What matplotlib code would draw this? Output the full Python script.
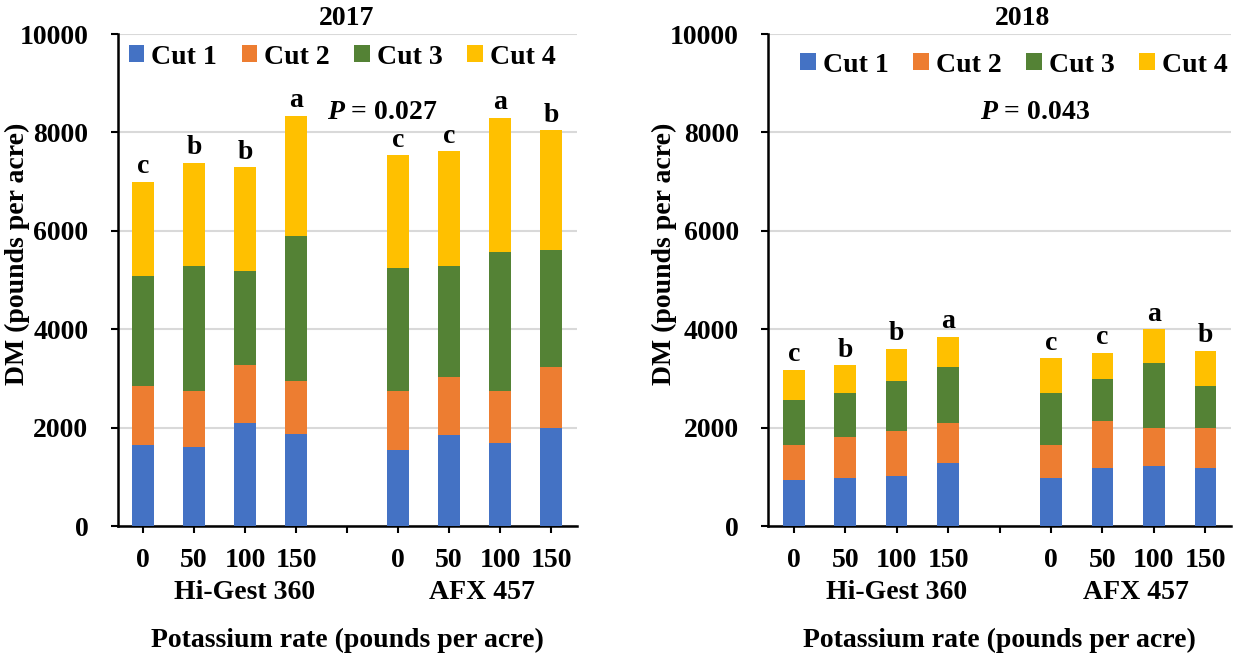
import numpy as np
import matplotlib
matplotlib.use("Agg")
import matplotlib.pyplot as plt
from matplotlib.transforms import blended_transform_factory

plt.rcParams['font.family'] = ['Liberation Serif', 'DejaVu Serif']
plt.rcParams['font.weight'] = 'bold'
plt.rcParams['mathtext.fontset'] = 'custom'
plt.rcParams['mathtext.bfit'] = 'Liberation Serif:italic:bold'

# --- dados ---
rates = ["0", "50", "100", "150"]
hybrids = ["Hi-Gest 360", "AFX 457"]
cuts = ["Cut 1", "Cut 2", "Cut 3", "Cut 4"]
colors = ["#4472C4", "#ED7D31", "#548235", "#FFC000"]

# 2017: produção por corte (Hi-Gest 0..150, AFX 0..150)
cut1_2017 = [1650, 1600, 2090, 1880, 1550, 1840, 1690, 1985]
cut2_2017 = [1195, 1145, 1180, 1065, 1195, 1190, 1055, 1245]
cut3_2017 = [2240, 2540, 1920, 2955, 2490, 2255, 2825, 2385]
cut4_2017 = [1915, 2100, 2100, 2440, 2300, 2330, 2725, 2435]
letters_2017 = ["c", "b", "b", "a", "c", "c", "a", "b"]

# 2018
cut1_2018 = [935, 980, 1025, 1275, 980, 1170, 1225, 1170]
cut2_2018 = [710, 820, 910, 810, 665, 955, 760, 815]
cut3_2018 = [915, 895, 1010, 1145, 1050, 860, 1335, 860]
cut4_2018 = [615, 575, 655, 615, 720, 535, 675, 720]
letters_2018 = ["c", "b", "b", "a", "c", "c", "a", "b"]

p_2017 = "0.027"
p_2018 = "0.043"

# posições no eixo x: 4 taxas, uma vaga, 4 taxas
xpos = [0, 1, 2, 3, 5, 6, 7, 8]
FS = 20


def painel(ax, series, letras, ano, p_txt, leg_xy, title_x):
    bottom = np.zeros(len(xpos))
    for vals, cor, nome in zip(series, colors, cuts):
        ax.bar(xpos, vals, width=0.42, bottom=bottom, color=cor, label=nome, zorder=3)
        bottom += np.array(vals)
    for x, tot, l in zip(xpos, bottom, letras):
        ax.text(x, tot + 50, l, ha='center', va='bottom', fontsize=FS)

    ax.set_xlim(-0.5, 8.5)
    ax.set_ylim(0, 10000)
    ax.set_yticks(np.arange(0, 10001, 2000))
    ax.set_xticks(range(9))
    ax.set_xticklabels(rates + [""] + rates)
    ax.tick_params(axis='both', labelsize=FS, width=1.5, length=5)
    ax.tick_params(axis='x', pad=11)
    ax.tick_params(axis='y', pad=16)
    ax.grid(axis='y', color='#d9d9d9', lw=1.5, zorder=0)
    for s in ['top', 'right']:
        ax.spines[s].set_visible(False)
    for s in ['left', 'bottom']:
        ax.spines[s].set_linewidth(1.8)

    tr = blended_transform_factory(ax.transData, ax.transAxes)
    ax.text(2.0, -0.136, hybrids[0], transform=tr, ha='center', va='center', fontsize=FS)
    ax.text(6.65, -0.136, hybrids[1], transform=tr, ha='center', va='center', fontsize=FS)
    ax.text(4.0, -0.232, "Potassium rate (pounds per acre)", transform=tr,
            ha='center', va='center', fontsize=FS)
    ax.text(title_x, 1.031, ano, transform=ax.transAxes, ha='center', va='center', fontsize=FS)
    ax.text(4.7, 0.841, r"$\mathbfit{P}$ = " + p_txt, transform=tr, ha='center', va='center',
            fontsize=FS)

    ax.legend(loc='center', bbox_to_anchor=leg_xy, ncol=4, frameon=False, fontsize=FS,
              handlelength=0.55, handleheight=0.55, handletextpad=0.25, columnspacing=0.9,
              borderaxespad=0)


fig = plt.figure(figsize=(12.33, 6.61), dpi=100)
ax1 = fig.add_axes([0.0953, 0.2042, 0.3723, 0.7443])
ax2 = fig.add_axes([0.6229, 0.2042, 0.3755, 0.7443])

painel(ax1, [cut1_2017, cut2_2017, cut3_2017, cut4_2017], letters_2017, "2017", p_2017,
       (0.489, 0.953), 0.5)
painel(ax2, [cut1_2018, cut2_2018, cut3_2018, cut4_2018], letters_2018, "2018", p_2018,
       (0.531, 0.937), 0.55)

ax1.text(-0.217, 0.553, "DM (pounds per acre)", transform=ax1.transAxes, rotation=90,
         ha='center', va='center', fontsize=FS)
ax2.text(-0.224, 0.553, "DM (pounds per acre)", transform=ax2.transAxes, rotation=90,
         ha='center', va='center', fontsize=FS)

fig.savefig("out.png", dpi=100)
